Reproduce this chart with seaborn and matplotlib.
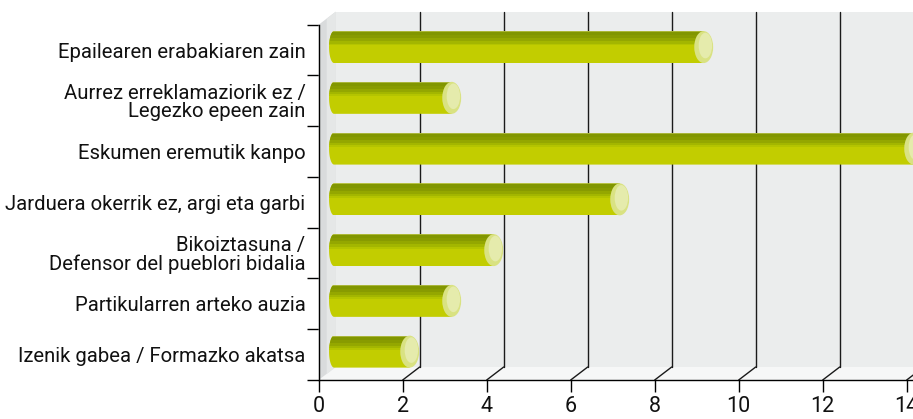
import matplotlib
matplotlib.use('Agg')
import matplotlib.pyplot as plt
import seaborn as sns
import pandas as pd
import numpy as np
from matplotlib.patches import Rectangle, Polygon, Ellipse, PathPatch
from matplotlib.path import Path
from matplotlib.transforms import offset_copy, IdentityTransform
from matplotlib.lines import Line2D

categories = [
    "Epailearen erabakiaren zain",
    "Aurrez erreklamaziorik ez /\nLegezko epeen zain",
    "Eskumen eremutik kanpo",
    "Jarduera okerrik ez, argi eta garbi",
    "Bikoiztasuna /\nDefensor del pueblori bidalia",
    "Partikularren arteko auzia",
    "Izenik gabea / Formazko akatsa",
]
values = [9, 3, 14, 7, 4, 3, 2]
xticks = [0, 2, 4, 6, 8, 10, 12, 14]

sns.set_theme(style="white")
plt.rcParams['font.family'] = ['Roboto', 'DejaVu Sans']
plt.rcParams['font.weight'] = 'normal'

W, H = 913, 419
fig = plt.figure(figsize=(W / 100, H / 100), dpi=100)
x0, unit, ytop, ybot = 318.7, 42.0, 24.7, 380.0
xmax = (W - x0) / unit
ax = fig.add_axes([x0 / W, (H - ybot) / H, (W - x0) / W, (ybot - ytop) / H])

df = pd.DataFrame({"cat": categories, "val": values})
BAR_H = 0.63
BASE = "#c2cd00"
sns.barplot(data=df, y="cat", x="val", orient="h", color=BASE, width=BAR_H,
            saturation=1, ax=ax, zorder=3, linewidth=0)
ax.set_xlim(0, xmax)
ax.set_ylim(6.5, -0.5)
ax.patch.set_visible(False)

# depth offsets (pixels)
DX, DY = 17, 13
back_tr = offset_copy(ax.transData, fig=fig, x=DX, y=DY, units='dots')
bar_tr = offset_copy(ax.transData, fig=fig, x=7, y=3, units='dots')

def disp(x, y, dx=0, dy=0):
    p = ax.transData.transform((x, y))
    return (p[0] + dx, p[1] + dy)

# back wall
ax.add_patch(Rectangle((0, -0.5), xmax + 2, 7, transform=back_tr,
                       facecolor="#ebeded", edgecolor="none", zorder=0.5, clip_on=False))
# floor
floor = [disp(0, 6.5), disp(xmax + 2, 6.5), disp(xmax + 2, 6.5, DX, DY), disp(0, 6.5, DX, DY)]
ax.add_patch(Polygon(floor, closed=True, transform=IdentityTransform(),
                     facecolor="#f6f7f7", edgecolor="none", zorder=0.6, clip_on=False))
# side wall
side = [disp(0, -0.5), disp(0, 6.5), disp(0, 6.5, DX, DY), disp(0, -0.5, DX, DY)]
ax.add_patch(Polygon(side, closed=True, transform=IdentityTransform(),
                     facecolor="#d9dbdc", edgecolor="none", zorder=0.7, clip_on=False))
side2 = [disp(0, -0.5, 8, 6), disp(0, 6.5, 8, 6), disp(0, 6.5, DX, DY), disp(0, -0.5, DX, DY)]
ax.add_patch(Polygon(side2, closed=True, transform=IdentityTransform(),
                     facecolor="#e5e7e7", edgecolor="none", zorder=0.71, clip_on=False))

# gridlines on back wall + floor diagonals
for t in xticks[1:]:
    ax.add_line(Line2D([t, t], [-0.5, 6.5], transform=back_tr, color="#1a1a1a",
                       lw=1.0, zorder=1, clip_on=False))
    a, b = disp(t, 6.5), disp(t, 6.5, DX, DY)
    ax.add_line(Line2D([a[0], b[0]], [a[1], b[1]], transform=IdentityTransform(),
                       color="#1a1a1a", lw=1.0, zorder=1, clip_on=False))

A = 0.12   # left rounded end semi-width (data units)
C0 = 0.20  # centre of the left rounded end
outlines = []
for i, v in enumerate(values):
    top, bot = i - BAR_H / 2, i + BAR_H / 2
    t = np.linspace(0, np.pi, 40)
    arc = [(C0 - A * np.sin(tt), i - BAR_H / 2 * np.cos(tt)) for tt in t]
    verts = [(v, top)] + arc + [(v, bot), (v, top)]
    codes = [Path.MOVETO] + [Path.LINETO] * (len(verts) - 2) + [Path.CLOSEPOLY]
    outlines.append(PathPatch(Path(verts, codes), transform=bar_tr))

# bars: move seaborn bars to the mid depth and round their left end
bar_patches = [p for p in ax.patches if isinstance(p, Rectangle) and p.get_zorder() == 3]
for p in bar_patches:
    yc = p.get_y() + p.get_height() / 2
    idx = int(round(yc))
    p.set_transform(bar_tr)
    p.set_clip_path(outlines[idx])

bands = [(0.00, 0.03, "#a9b53a"), (0.03, 0.13, "#819600"), (0.13, 0.23, "#889b00"),
         (0.23, 0.32, "#94a700"), (0.32, 0.39, "#a3b600"), (0.39, 0.45, "#b4c400")]
for i, v in enumerate(values):
    top = i - BAR_H / 2
    for f0, f1, c in bands:
        bc = ax.barh(y=top + f0 * BAR_H, width=v, left=0, height=(f1 - f0) * BAR_H,
                     align="edge", color=c, transform=bar_tr, zorder=4, linewidth=0)
        for r in bc:
            r.set_clip_path(outlines[i])
    ax.add_patch(Ellipse((v, i), 0.45, BAR_H, transform=bar_tr, facecolor="#d9e282",
                         edgecolor="none", zorder=6, clip_on=False))
    ax.add_patch(Ellipse((v + 0.04, i - 0.03), 0.32, BAR_H * 0.8, transform=bar_tr,
                         facecolor="#e5ebac", edgecolor="none", zorder=6.1, clip_on=False))

# spines & ticks
for s in ["top", "right"]:
    ax.spines[s].set_visible(False)
for s in ["left", "bottom"]:
    ax.spines[s].set_color("black")
    ax.spines[s].set_linewidth(1.0)
    ax.spines[s].set_zorder(2)

ax.set_xticks(xticks)
ax.set_xticklabels([str(x) for x in xticks])
ax.tick_params(axis="x", direction="out", length=8.6, width=1.0, color="black",
               labelsize=15.5, pad=3, labelcolor="#111111", bottom=True)
ax.set_yticks(range(len(categories)))
ax.set_yticklabels(categories, linespacing=0.95)
ax.tick_params(axis="y", which="major", length=0, pad=9.5, labelsize=14.6,
               labelcolor="#111111", left=True)
ax.set_yticks(np.arange(-0.5, 7.0, 1.0), minor=True)
ax.tick_params(axis="y", which="minor", length=8.6, width=1.0, color="black", left=True)
ax.set_xlabel("")
ax.set_ylabel("")

fig.savefig("out.png", dpi=100)
